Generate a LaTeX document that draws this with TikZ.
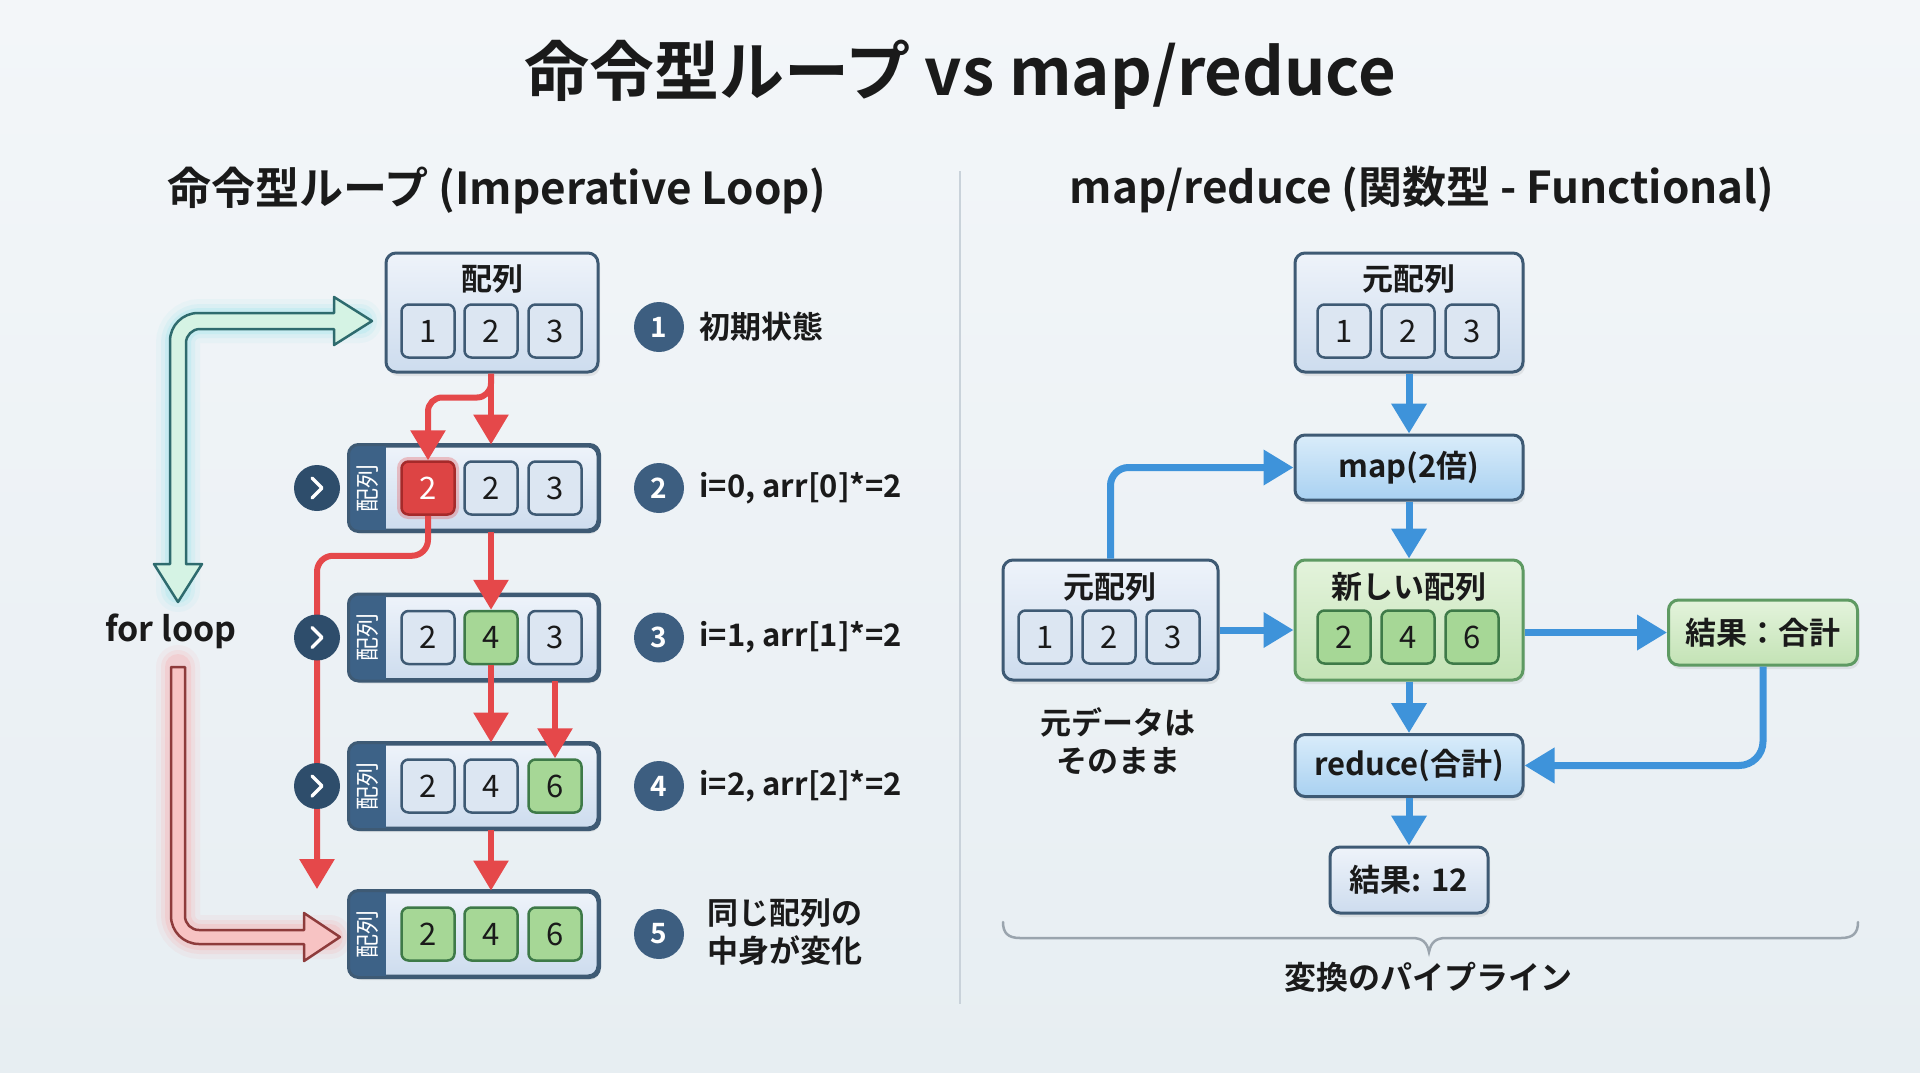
\documentclass[tikz,border=0pt]{standalone}
\usepackage{fontspec}
\setmainfont{Noto Sans CJK JP}[BoldFont={Noto Sans CJK JP Bold}]
\usetikzlibrary{arrows.meta,shadows,calc}
\definecolor{bgtop}{HTML}{F3F6F9}
\definecolor{bgbot}{HTML}{E7EEF2}
\definecolor{boxborder}{HTML}{3E5A74}
\definecolor{boxfillA}{HTML}{EEF3FA}
\definecolor{boxfillB}{HTML}{CDDCEE}
\definecolor{cellfill}{HTML}{DCE6F2}
\definecolor{tabcol}{HTML}{3D6287}
\definecolor{redline}{HTML}{E5484A}
\definecolor{redcell}{HTML}{DD4444}
\definecolor{redcellb}{HTML}{A52A2A}
\definecolor{greencell}{HTML}{A6D796}
\definecolor{greencellb}{HTML}{3E7A48}
\definecolor{blueline}{HTML}{3E93DA}
\definecolor{mapfillA}{HTML}{D9ECFA}
\definecolor{mapfillB}{HTML}{A9D1F1}
\definecolor{greenboxA}{HTML}{E4F3DC}
\definecolor{greenboxB}{HTML}{C3E3B5}
\definecolor{greenboxb}{HTML}{5E9A62}
\definecolor{stepcirc}{HTML}{3D5E80}
\definecolor{chevcirc}{HTML}{2E4D6B}
\definecolor{textdark}{HTML}{1A1A1A}
\definecolor{divider}{HTML}{C9D2DA}
\definecolor{garrowfill}{HTML}{D5F3E4}
\definecolor{garrowline}{HTML}{2E6B6E}
\definecolor{garrowglow}{HTML}{7FE0EA}
\definecolor{rarrowfill}{HTML}{F7C3C3}
\definecolor{rarrowline}{HTML}{8E3B3B}
\definecolor{rarrowglow}{HTML}{FF8F8F}
\definecolor{bracecol}{HTML}{9AA4AD}
\begin{document}
\begin{tikzpicture}[x=1pt,y=-1pt,
  every node/.style={text=textdark},
  fs/.style={font=\fontsize{#1}{#1}\selectfont},
  fsb/.style={font=\fontsize{#1}{#1}\selectfont\bfseries},
  arrbox/.style={draw=boxborder, line width=3pt, rounded corners=10pt,
    top color=boxfillA, bottom color=boxfillB,
    drop shadow={opacity=0.15, shadow xshift=2pt, shadow yshift=-4pt}},
  mapbox/.style={draw=boxborder, line width=3pt, rounded corners=10pt,
    top color=mapfillA, bottom color=mapfillB,
    drop shadow={opacity=0.15, shadow xshift=2pt, shadow yshift=-4pt}},
  grnbox/.style={draw=greenboxb, line width=3pt, rounded corners=10pt,
    top color=greenboxA, bottom color=greenboxB,
    drop shadow={opacity=0.15, shadow xshift=2pt, shadow yshift=-4pt}},
  cell/.style={draw=boxborder, line width=2.5pt, rounded corners=7pt, fill=cellfill,
    minimum width=53pt, minimum height=53pt, inner sep=0pt, fs=31},
  gcell/.style={cell, draw=greencellb, fill=greencell},
  rcell/.style={cell, draw=redcellb, fill=redcell, text=white,
    preaction={draw=redline, line width=9pt, opacity=0.3}},
  redarrow/.style={draw=redline, line width=6pt, -{Triangle[length=30pt,width=34pt]}},
  bluearrow/.style={draw=blueline, line width=7pt, -{Triangle[length=30pt,width=34pt]}},
  stepc/.style={circle, fill=stepcirc, minimum size=50pt, inner sep=0pt, text=white, fsb=28},
  chevc/.style={circle, fill=chevcirc, minimum size=46pt, inner sep=0pt},
  steptext/.style={anchor=west, fsb=31},
  tabtext/.style={rotate=90, text=white, fs=24}
]
\useasboundingbox (0,0) rectangle (1920,1072);
\shade[top color=bgtop, bottom color=bgbot] (0,0) rectangle (1920,1072);

% ---------- titles ----------
\node[fsb=65] (title) at (960,75) {命令型ループ vs map/reduce};
\node[fsb=44] (hleft) at (497,190) {命令型ループ (Imperative Loop)};
\node[fsb=44] (hright) at (1422,190) {map/reduce (関数型 - Functional)};
\coordinate (dtop) at (960,171);
\coordinate (dbot) at (960,1004);
\draw[divider, line width=1.5pt] (dtop) -- (dbot);

% ---------- glows of hollow arrows ----------
\foreach \w/\o in {44/0.08, 34/0.12, 26/0.18}{
  \draw[garrowglow, line width=\w pt, opacity=\o, rounded corners=22pt, line cap=round]
    (178,590) -- (178,321) -- (360,321);
  \draw[rarrowglow, line width=\w pt, opacity=\o, rounded corners=22pt, line cap=round]
    (178,667) -- (178,937) -- (330,937);
}
% green hollow arrow
\filldraw[fill=garrowfill, draw=garrowline, line width=2.5pt, line join=round]
  (178,602) -- (202,564) -- (186,564) -- (186,343) arc[start angle=180,end angle=270,radius=14]
  -- (334,329) -- (334,345) -- (372,321) -- (334,297) -- (334,313) -- (198,313)
  arc[start angle=270,end angle=180,radius=28] -- (170,564) -- (154,564) -- cycle;
% red hollow arrow
\filldraw[fill=rarrowfill, draw=rarrowline, line width=2.5pt, line join=round]
  (171,667) -- (185,667) -- (185,916) arc[start angle=180,end angle=90,radius=14]
  -- (304,930) -- (304,913) -- (340,937) -- (304,961) -- (304,944) -- (199,944)
  arc[start angle=90,end angle=180,radius=28] -- cycle;
\node[fsb=34] (forloop) at (171,631) {for loop};

% ---------- left: box 1 ----------
\node[arrbox, minimum width=212pt, minimum height=119pt] (b1) at (492,312.5) {};
\node[fsb=31] (b1t) at (492,279) {配列};
\node[cell] (c1a) at (428,331) {1};
\node[cell] (c1b) at (491,331) {2};
\node[cell] (c1c) at (555,331) {3};

% ---------- left: row boxes ----------
\foreach \nm/\yy in {r2/488, r3/637.5, r4/786, r5/934}{
  \node[arrbox, minimum width=248pt, minimum height=84pt] (\nm) at (474,\yy) {};
  \begin{scope}
    \clip[rounded corners=10pt] (\nm.north west) rectangle (\nm.south east);
    \fill[tabcol] (\nm.north west) rectangle ([xshift=37pt]\nm.south west);
  \end{scope}
  \draw[boxborder, line width=3pt, rounded corners=10pt] (\nm.north west) rectangle (\nm.south east);
  \node[tabtext] at ([xshift=19pt]\nm.west) {配列};
}
\node[rcell] (c2a) at (428,488) {2};
\node[cell]  (c2b) at (491,488) {2};
\node[cell]  (c2c) at (555,488) {3};
\node[cell]  (c3a) at (428,637.5) {2};
\node[gcell] (c3b) at (491,637.5) {4};
\node[cell]  (c3c) at (555,637.5) {3};
\node[cell]  (c4a) at (428,786) {2};
\node[cell]  (c4b) at (491,786) {4};
\node[gcell] (c4c) at (555,786) {6};
\node[gcell] (c5a) at (428,934) {2};
\node[gcell] (c5b) at (491,934) {4};
\node[gcell] (c5c) at (555,934) {6};

% ---------- red connectors ----------
\coordinate (rtip) at (317,889);
\draw[redarrow] (c1b |- b1.south) -- (c2b |- r2.north);
\draw[redarrow, rounded corners=14pt] (c1b |- b1.south) -- ++(0,24) -| (c2a.north);
\draw[redarrow, rounded corners=16pt] (c2a.south) -- ++(0,40) -| (rtip);
\draw[redarrow] (c2b |- r2.south) -- (c3b.north);
\draw[redarrow] (c3b.south) -- (c4b |- r4.north);
\draw[redarrow] (c3c |- r3.south) -- (c4c.north);
\draw[redarrow] (c4b |- r4.south) -- (c5b |- r5.north);

% ---------- chevrons ----------
\foreach \nm/\yy in {ch2/488, ch3/637.5, ch4/786}{
  \node[chevc] (\nm) at (317,\yy) {};
  \draw[white, line width=3.5pt, line cap=round, line join=round]
    ([shift={(-5pt,10pt)}]\nm.center) -- ([shift={(5pt,0pt)}]\nm.center) -- ([shift={(-5pt,-10pt)}]\nm.center);
}

% ---------- steps ----------
\node[stepc] (s1) at (659,327) {1};
\node[stepc] (s2) at (659,488) {2};
\node[stepc] (s3) at (659,637.5) {3};
\node[stepc] (s4) at (659,786) {4};
\node[stepc] (s5) at (659,934) {5};
\node[steptext] (t1) at (696,327) {初期状態};
\node[steptext] (t2) at (696,488) {i=0, arr[0]*=2};
\node[steptext] (t3) at (696,637.5) {i=1, arr[1]*=2};
\node[steptext] (t4) at (696,786) {i=2, arr[2]*=2};
\node[steptext, align=left, font=\fontsize{31}{38}\selectfont\bfseries] (t5) at (704,932) {同じ配列の\\中身が変化};

% ---------- right side ----------
\node[arrbox, minimum width=228pt, minimum height=119pt] (top) at (1409,312.5) {};
\node[fsb=31] (topt) at (1409,279) {元配列};
\node[cell] (ta) at (1344,331) {1};
\node[cell] (tb) at (1408,331) {2};
\node[cell] (tc) at (1472,331) {3};

\node[mapbox, minimum width=228pt, minimum height=65pt, fsb=31] (map) at (1409,467.5) {map(2倍)};

\node[grnbox, minimum width=228pt, minimum height=120pt] (new) at (1409,620) {};
\node[fsb=31] (newt) at (1409,587) {新しい配列};
\node[gcell] (na) at (1344,637) {2};
\node[gcell] (nb) at (1408,637) {4};
\node[gcell] (nc) at (1472,637) {6};

\node[arrbox, minimum width=215pt, minimum height=120pt] (orig) at (1110.5,620) {};
\node[fsb=31] (origt) at (1110,587) {元配列};
\node[cell] (oa) at (1045,637) {1};
\node[cell] (ob) at (1109,637) {2};
\node[cell] (oc) at (1173,637) {3};

\node[grnbox, minimum width=189pt, minimum height=65pt, fsb=31] (sum) at (1763,632.5) {結果：合計};
\node[mapbox, minimum width=228pt, minimum height=62pt, fsb=31] (reduce) at (1409,765.5) {reduce(合計)};
\node[arrbox, minimum width=158pt, minimum height=66pt, fsb=31] (res) at (1409,880) {結果: 12};

\node[align=center, font=\fontsize{31}{38}\selectfont\bfseries] (keep) at (1118,741) {元データは\\そのまま};

% blue connectors
\draw[bluearrow] (top.south) -- (map.north);
\draw[bluearrow] (map.south) -- (new.north);
\draw[bluearrow] ([yshift=-10pt]orig.east) -- ([yshift=-10pt]new.west);
\draw[bluearrow, rounded corners=18pt] (orig.north) |- (map.west);
\draw[bluearrow] (new.east |- sum.west) -- (sum.west);
\draw[bluearrow, rounded corners=24pt] (sum.south) |- (reduce.east);
\draw[bluearrow] (new.south) -- (reduce.north);
\draw[bluearrow] (reduce.south) -- (res.north);

% brace
\draw[bracecol, line width=2.5pt, line cap=round]
  (1003,922) .. controls (1003,933) and (1008,938) .. (1020,938) -- (1412,938)
  .. controls (1422,938) and (1427,942) .. (1429,952)
  .. controls (1431,942) and (1436,938) .. (1446,938) -- (1841,938)
  .. controls (1853,938) and (1858,933) .. (1858,922);
\node[fsb=32] (pipe) at (1428,977) {変換のパイプライン};
\end{tikzpicture}
\end{document}
